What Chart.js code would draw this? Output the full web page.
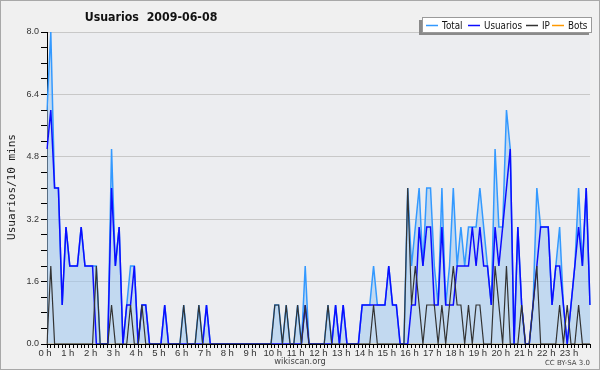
<!DOCTYPE html>
<html>
<head>
<meta charset="utf-8">
<title>Usuarios 2009-06-08</title>
<script src="https://cdn.jsdelivr.net/npm/chart.js@4.4.1/dist/chart.umd.min.js"></script>
<style>
  html, body { margin: 0; padding: 0; background: #f0f0f0; }
  #wrap { width: 600px; height: 370px; }
</style>
</head>
<body>
<div id="wrap"><canvas id="usersChart" width="600" height="370"></canvas></div>
<script>
const chartTitle = "Usuarios  2009-06-08";
const yAxisTitle = "Usuarios/10 mins";
const footerText = "wikiscan.org";
const licenceText = "CC BY-SA 3.0";

const hourLabels = ["0 h", "1 h", "2 h", "3 h", "4 h", "5 h", "6 h", "7 h", "8 h", "9 h", "10 h", "11 h",
                    "12 h", "13 h", "14 h", "15 h", "16 h", "17 h", "18 h", "19 h", "20 h", "21 h", "22 h", "23 h"];
const seriesNames = ["Total", "Usuarios", "IP", "Bots"];

// one value per 10 minutes, 144 per day
const total = [
    6, 8, 4, 4, 1, 3, 2, 2, 2, 3, 2, 2,
    2, 2, 0, 0, 0, 5, 2, 3, 0, 1, 2, 2,
    0, 1, 1, 0, 0, 0, 0, 1, 0, 0, 0, 0,
    1, 0, 0, 0, 1, 0, 1, 0, 0, 0, 0, 0,
    0, 0, 0, 0, 0, 0, 0, 0, 0, 0, 0, 0,
    1, 1, 0, 1, 0, 0, 1, 0, 2, 0, 0, 0,
    0, 0, 1, 0, 1, 0, 1, 0, 0, 0, 0, 1,
    1, 1, 2, 1, 1, 1, 2, 1, 1, 0, 0, 4,
    2, 3, 4, 2, 4, 4, 2, 1, 4, 1, 2, 4,
    2, 3, 2, 3, 3, 3, 4, 3, 2, 1, 5, 3,
    3, 6, 5, 0, 3, 1, 0, 0, 1, 4, 3, 3,
    3, 1, 2, 3, 1, 0, 1, 2, 4, 2, 4, 1
];
const usuarios = [
    5, 6, 4, 4, 1, 3, 2, 2, 2, 3, 2, 2,
    2, 0, 0, 0, 0, 4, 2, 3, 0, 1, 1, 2,
    0, 1, 1, 0, 0, 0, 0, 1, 0, 0, 0, 0,
    0, 0, 0, 0, 0, 0, 1, 0, 0, 0, 0, 0,
    0, 0, 0, 0, 0, 0, 0, 0, 0, 0, 0, 0,
    0, 0, 0, 0, 0, 0, 0, 0, 1, 0, 0, 0,
    0, 0, 0, 0, 1, 0, 1, 0, 0, 0, 0, 1,
    1, 1, 1, 1, 1, 1, 2, 1, 1, 0, 0, 0,
    1, 1, 3, 2, 3, 3, 1, 1, 3, 1, 1, 1,
    2, 2, 2, 2, 3, 2, 3, 2, 2, 1, 3, 2,
    3, 4, 5, 0, 3, 1, 0, 0, 1, 2, 3, 3,
    3, 1, 2, 2, 1, 0, 1, 2, 3, 2, 4, 1
];
const ip = [
    0, 2, 0, 0, 0, 0, 0, 0, 0, 0, 0, 0,
    0, 2, 0, 0, 0, 1, 0, 0, 0, 0, 1, 0,
    0, 1, 0, 0, 0, 0, 0, 0, 0, 0, 0, 0,
    1, 0, 0, 0, 1, 0, 0, 0, 0, 0, 0, 0,
    0, 0, 0, 0, 0, 0, 0, 0, 0, 0, 0, 0,
    1, 1, 0, 1, 0, 0, 1, 0, 1, 0, 0, 0,
    0, 0, 1, 0, 0, 0, 0, 0, 0, 0, 0, 0,
    0, 0, 1, 0, 0, 0, 0, 0, 0, 0, 0, 4,
    1, 2, 1, 0, 1, 1, 1, 0, 1, 0, 1, 2,
    1, 1, 0, 1, 0, 1, 1, 0, 0, 0, 2, 1,
    0, 2, 0, 0, 0, 1, 0, 0, 1, 2, 0, 0,
    0, 0, 0, 1, 0, 1, 0, 0, 1, 0, 0, 0
];
const bots = [
    0, 0, 0, 0, 0, 0, 0, 0, 0, 0, 0, 0,
    0, 0, 0, 0, 0, 0, 0, 0, 0, 0, 0, 0,
    0, 0, 0, 0, 0, 0, 0, 0, 0, 0, 0, 0,
    0, 0, 0, 0, 0, 0, 0, 0, 0, 0, 0, 0,
    0, 0, 0, 0, 0, 0, 0, 0, 0, 0, 0, 0,
    0, 0, 0, 0, 0, 0, 0, 0, 0, 0, 0, 0,
    0, 0, 0, 0, 0, 0, 0, 0, 0, 0, 0, 0,
    0, 0, 0, 0, 0, 0, 0, 0, 0, 0, 0, 0,
    0, 0, 0, 0, 0, 0, 0, 0, 0, 0, 0, 0,
    0, 0, 0, 0, 0, 0, 0, 0, 0, 0, 0, 0,
    0, 0, 0, 0, 0, 0, 0, 0, 0, 0, 0, 0,
    0, 0, 0, 0, 0, 0, 0, 0, 0, 0, 0, 0
];

// 6 slots per hour, only the first one gets the hour label
const slotLabels = [];
hourLabels.forEach(h => slotLabels.push(h, "", "", "", "", ""));

const colors = ["#3399ff", "#0c0cff", "#333333", "#ff9900"];

// draws text squeezed horizontally (the original uses a condensed face)
function narrowText(ctx, text, x, y, squeeze) {
    ctx.save();
    ctx.translate(x, y);
    ctx.scale(squeeze, 1);
    ctx.fillText(text, 0, 0);
    ctx.restore();
}

// backgrounds, titles, legend box and footer
const decorPlugin = {
    id: "decor",
    beforeDraw(chart) {
        const ctx = chart.ctx, a = chart.chartArea;
        ctx.save();
        ctx.fillStyle = "#f0f0f0";
        ctx.fillRect(0, 0, chart.width, chart.height);
        ctx.fillStyle = "#ecedf0";
        ctx.fillRect(a.left, a.top, a.right - a.left, a.bottom - a.top);
        ctx.strokeStyle = "#a8a8a8";
        ctx.lineWidth = 1;
        ctx.strokeRect(0.5, 0.5, chart.width - 1, chart.height - 1);
        ctx.restore();
    },
    afterDraw(chart) {
        const ctx = chart.ctx;
        ctx.save();

        ctx.fillStyle = "#111";
        ctx.font = 'bold 13px "DejaVu Sans"';
        ctx.textAlign = "center";
        ctx.textBaseline = "alphabetic";
        narrowText(ctx, chartTitle, 151, 21, 0.85);

        ctx.save();
        ctx.translate(12, 187);
        ctx.rotate(-Math.PI / 2);
        ctx.font = '11px "DejaVu Sans Mono"';
        ctx.textBaseline = "middle";
        ctx.fillStyle = "#222";
        ctx.fillText(yAxisTitle, 0, 0);
        ctx.restore();

        ctx.font = '9px "DejaVu Sans"';
        ctx.fillStyle = "#444";
        narrowText(ctx, footerText, 300, 364, 0.92);
        ctx.font = '7px "DejaVu Sans"';
        ctx.textAlign = "right";
        ctx.fillText(licenceText, 590, 365);

        // legend with shadow down-left
        const lx = 422, ly = 17, lw = 170, lh = 16;
        ctx.fillStyle = "#8a8a8a";
        ctx.fillRect(lx - 3, ly + 3, lw, lh - 1);
        ctx.fillStyle = "#ffffff";
        ctx.fillRect(lx, ly, lw, lh);
        ctx.strokeStyle = "#9a9a9a";
        ctx.lineWidth = 1;
        ctx.strokeRect(lx + 0.5, ly + 0.5, lw - 1, lh - 1);
        const swatchX = [426, 468, 526, 552];
        ctx.font = '10px "DejaVu Sans"';
        ctx.textAlign = "left";
        ctx.textBaseline = "middle";
        chart.data.datasets.forEach((ds, i) => {
            ctx.strokeStyle = ds.borderColor;
            ctx.lineWidth = 1.5;
            ctx.beginPath();
            ctx.moveTo(swatchX[i], ly + 8.5);
            ctx.lineTo(swatchX[i] + 12, ly + 8.5);
            ctx.stroke();
            ctx.fillStyle = "#111";
            narrowText(ctx, ds.label, swatchX[i] + 16, ly + 9, 0.88);
        });
        ctx.restore();
    }
};

const ctx = document.getElementById("usersChart").getContext("2d");
new Chart(ctx, {
    type: "line",
    data: {
        labels: slotLabels,
        datasets: [
            {
                label: seriesNames[0],
                data: total,
                borderColor: colors[0],
                backgroundColor: "rgba(160, 200, 240, 0.55)",
                fill: "origin",
                borderWidth: 1.5,
                order: 3
            },
            {
                label: seriesNames[1],
                data: usuarios,
                borderColor: colors[1],
                borderWidth: 1.5,
                fill: false,
                order: 2
            },
            {
                label: seriesNames[2],
                data: ip,
                borderColor: colors[2],
                borderWidth: 1.2,
                fill: false,
                order: 1
            },
            {
                label: seriesNames[3],
                data: bots,
                borderColor: colors[3],
                borderWidth: 1.2,
                fill: false,
                order: 4
            }
        ]
    },
    options: {
        responsive: false,
        animation: false,
        devicePixelRatio: 1,
        layout: { padding: { top: 32, right: 10, left: 0, bottom: 0 } },
        elements: { point: { radius: 0 }, line: { tension: 0 } },
        plugins: {
            legend: { display: false },
            title: { display: false },
            tooltip: { enabled: false }
        },
        scales: {
            x: {
                type: "category",
                offset: false,
                z: 1,
                afterFit: scale => { scale.height = 26; },
                border: { color: "#000", width: 1 },
                grid: { drawOnChartArea: false, tickLength: 4, tickColor: "#000" },
                ticks: {
                    autoSkip: false,
                    maxRotation: 0,
                    padding: 0,
                    labelOffset: -2,
                    color: "#333",
                    font: { size: 9.5, family: "Liberation Sans" }
                }
            },
            y: {
                min: 0,
                max: 8,
                afterFit: scale => { scale.width = 47; },
                border: { color: "#000", width: 1 },
                grid: {
                    color: c => (c.index % 4 === 0 ? "#c8c8c8" : "rgba(0,0,0,0)"),
                    tickColor: "#000",
                    tickLength: 6
                },
                ticks: {
                    count: 21,
                    padding: 2,
                    color: "#333",
                    font: { size: 9, family: "Liberation Sans" },
                    callback: (v, i) => (i % 4 === 0 ? v.toFixed(1) : "")
                }
            }
        }
    },
    plugins: [decorPlugin]
});
</script>
</body>
</html>
